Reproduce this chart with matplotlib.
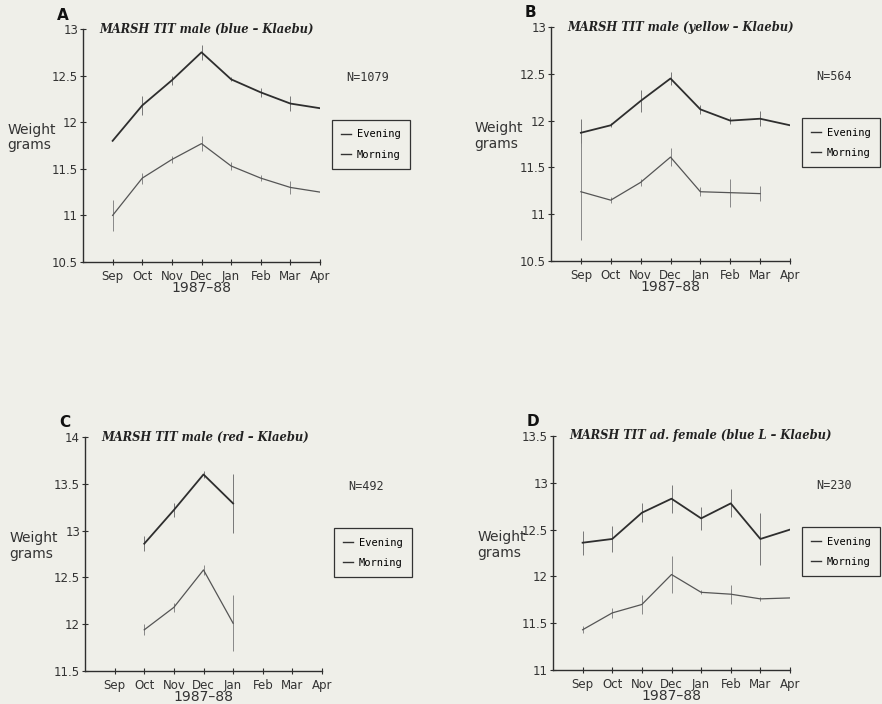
import numpy as np
import matplotlib
matplotlib.use('Agg')
import matplotlib.pyplot as plt
from matplotlib.lines import Line2D

months = ['Sep', 'Oct', 'Nov', 'Dec', 'Jan', 'Feb', 'Mar', 'Apr']
x_pos = np.arange(1, 9)

# Panel A - male (blue)
a_eve = [11.80, 12.18, 12.45, 12.75, 12.46, 12.32, 12.20, 12.15]
a_eve_err = [0.0, 0.10, 0.05, 0.08, 0.02, 0.05, 0.08, 0.06]
a_mor = [11.00, 11.40, 11.60, 11.77, 11.53, 11.40, 11.30, 11.25]
a_mor_err = [0.17, 0.06, 0.04, 0.08, 0.04, 0.03, 0.07, 0.04]

# Panel B - male (yellow)
b_eve = [11.87, 11.95, 12.21, 12.45, 12.12, 12.00, 12.02, 11.95]
b_eve_err = [0.15, 0.02, 0.12, 0.07, 0.05, 0.04, 0.08, 0.0]
b_mor = [11.24, 11.15, 11.34, 11.61, 11.24, 11.23, 11.22, np.nan]
b_mor_err = [0.52, 0.03, 0.04, 0.10, 0.05, 0.15, 0.08, 0.0]

# Panel C - male (red), Oct..Jan only
c_eve = [np.nan, 12.86, 13.22, 13.60, 13.29, np.nan, np.nan, np.nan]
c_eve_err = [0.0, 0.08, 0.08, 0.04, 0.32, 0.0, 0.0, 0.0]
c_mor = [np.nan, 11.94, 12.18, 12.58, 12.01, np.nan, np.nan, np.nan]
c_mor_err = [0.0, 0.06, 0.05, 0.05, 0.30, 0.0, 0.0, 0.0]

# Panel D - adult female (blue L)
d_eve = [12.36, 12.40, 12.68, 12.83, 12.62, 12.78, 12.40, 12.50]
d_eve_err = [0.13, 0.14, 0.10, 0.15, 0.12, 0.15, 0.28, 0.15]
d_mor = [11.43, 11.61, 11.70, 12.02, 11.83, 11.81, 11.76, 11.77]
d_mor_err = [0.04, 0.05, 0.10, 0.20, 0.02, 0.10, 0.02, 0.05]

panels = [
    ('A', 'MARSH TIT male (blue – Klaebu)', 'N=1079', a_eve, a_eve_err, a_mor, a_mor_err, (10.5, 13.0)),
    ('B', 'MARSH TIT male (yellow – Klaebu)', 'N=564', b_eve, b_eve_err, b_mor, b_mor_err, (10.5, 13.0)),
    ('C', 'MARSH TIT male (red – Klaebu)', 'N=492', c_eve, c_eve_err, c_mor, c_mor_err, (11.5, 14.0)),
    ('D', 'MARSH TIT ad. female (blue L – Klaebu)', 'N=230', d_eve, d_eve_err, d_mor, d_mor_err, (11.0, 13.5)),
]

W, H = 882, 704
# pixel boxes: left, right, top, bottom of each axes
boxes = [(83, 320, 29, 262), (551, 790, 27, 261), (85, 322, 437, 671), (553, 790, 436, 670)]
bg = '#efefe9'
ink = '#2e2e2e'

fig = plt.figure(figsize=(W / 100, H / 100), dpi=100, facecolor=bg)

for (letter, title, ntext, eve, eve_err, mor, mor_err, ylim), (l, r, t, b) in zip(panels, boxes):
    ax = fig.add_axes([l / W, 1 - b / H, (r - l) / W, (b - t) / H])
    ax.set_facecolor(bg)
    ax.set_xlim(0, 8)
    ax.set_ylim(*ylim)

    eve = np.array(eve)
    mor = np.array(mor)
    ax.errorbar(x_pos, eve, yerr=eve_err, color=ink, lw=1.3, elinewidth=0.7,
                ecolor='#777777', capsize=0)
    ax.errorbar(x_pos, mor, yerr=mor_err, color='#555555', lw=0.9, elinewidth=0.7,
                ecolor='#888888', capsize=0)

    for s in ['top', 'right']:
        ax.spines[s].set_visible(False)
    for s in ['left', 'bottom']:
        ax.spines[s].set_color(ink)
        ax.spines[s].set_linewidth(1.0)

    ax.set_xticks(x_pos)
    ax.set_xticklabels(months)
    yt = np.arange(ylim[0], ylim[1] + 0.01, 0.5)
    ax.set_yticks(yt)
    ax.set_yticklabels(['%g' % v for v in yt])
    ax.tick_params(direction='inout', length=5, width=0.8, color=ink,
                   labelsize=8.5, labelcolor='#333333', pad=1)
    ax.tick_params(axis='x', pad=3)

    ax.set_xlabel('1987–88', fontsize=10, color='#333333', labelpad=-1)
    ax.text(-0.32, 0.535, 'Weight\ngrams', transform=ax.transAxes, ha='left', va='center',
            fontsize=10, color='#333333', linespacing=1.15)
    ax.text(0.07, 1.0, title, transform=ax.transAxes, ha='left', va='center',
            fontsize=8.3, color='#222222', family='DejaVu Serif', style='italic', weight='bold')
    ax.text(-0.11, 1.06, letter, transform=ax.transAxes, ha='left', va='center',
            fontsize=11, weight='bold', color='#111111')
    ax.text(1.11, 0.79, ntext, transform=ax.transAxes, ha='left', va='center',
            fontsize=8.5, color='#333333', family='DejaVu Sans Mono')

    handles = [Line2D([], [], color='#333333', lw=1.0),
               Line2D([], [], color='#333333', lw=1.0)]
    leg = ax.legend(handles, ['Evening', 'Morning'], loc='upper left',
                    bbox_to_anchor=(1.05, 0.61), frameon=True,
                    fancybox=False, edgecolor='#333333', facecolor=bg, framealpha=1,
                    handlelength=0.9, handletextpad=0.6, borderpad=0.9, labelspacing=1.0,
                    borderaxespad=0, prop={'family': 'DejaVu Sans Mono', 'size': 7.5})
    leg.get_frame().set_linewidth(0.9)

fig.savefig('out.png', dpi=100, facecolor=bg)
